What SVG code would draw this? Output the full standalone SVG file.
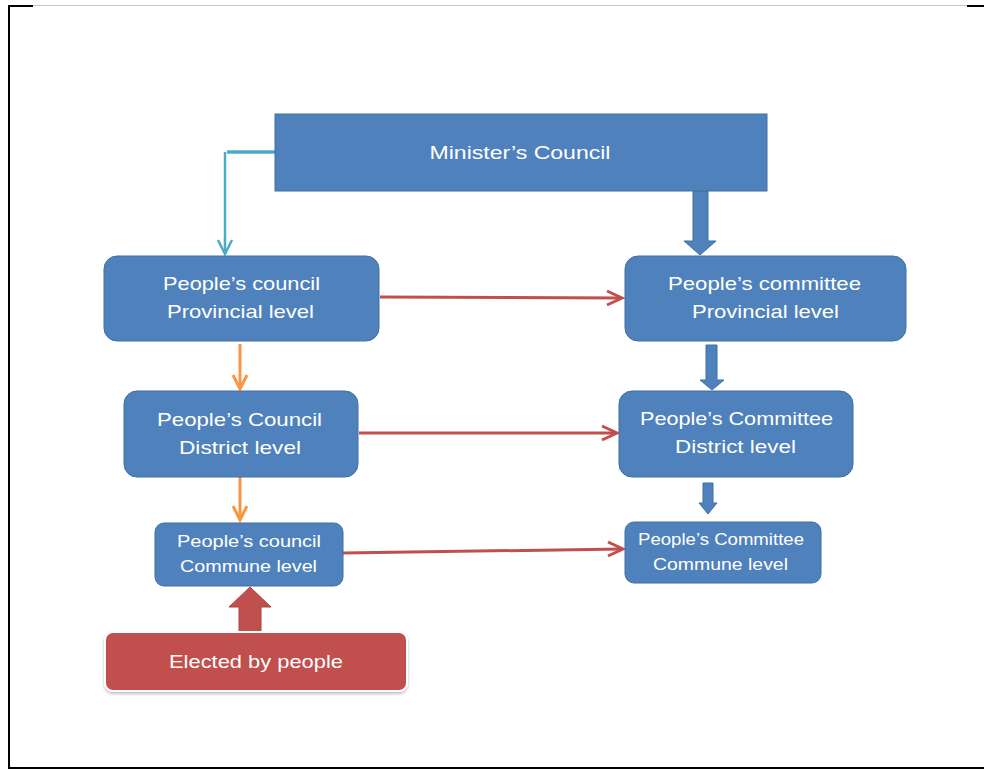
<svg xmlns="http://www.w3.org/2000/svg" width="984" height="770" viewBox="0 0 984 770">
  <defs>
    <style>
      .box { fill: #4F81BD; stroke: #41709f; stroke-width: 1; }
      .elect { fill: #C0504D; stroke: #ffffff; stroke-width: 2; }
      .lbl { font-family: "Liberation Sans", "Open Sans", sans-serif; fill: #ffffff; text-anchor: middle; }
      .big { font-size: 19px; }
      .small { font-size: 16.5px; }
      .frame { stroke: #000000; stroke-width: 2; fill: none; }
      .hairline { stroke: #b8b8b8; stroke-width: 0.8; fill: none; }
      .red { stroke: #C0504D; stroke-width: 3; fill: none; }
      .orange { stroke: #F79646; stroke-width: 3; fill: none; }
      .teal { stroke: #4BACC6; fill: none; }
      .blockblue { fill: #4F81BD; stroke: #41709f; stroke-width: 1; }
      .blockred { fill: #C0504D; stroke: #a84340; stroke-width: 1; }
    </style>
    <filter id="shadow" x="-10%" y="-20%" width="120%" height="150%">
      <feDropShadow dx="0" dy="2" stdDeviation="1.5" flood-color="#000" flood-opacity="0.25"/>
    </filter>
  </defs>

  <rect width="984" height="770" fill="#ffffff"/>

  <!-- page frame -->
  <g id="frame">
    <path class="hairline" d="M33 5.5 H967"/>
    <path class="frame" d="M8 6 H33 M9 6 V768 H984 M967 6 H984"/>
  </g>

  <!-- connectors -->
  <g id="connectors">
    <!-- Minister's Council to People's council (provincial) -->
    <path class="teal" stroke-width="3.5" d="M275 152 H227"/>
    <path class="teal" stroke-width="2.5" d="M225 152 V253"/>
    <path class="teal" stroke-width="2.5" d="M218 240 L225 254 L232 240"/>

    <!-- Minister's Council to People's committee (provincial) -->
    <path class="blockblue" d="M693 191 H708 V241 H716 L700 255 L684 241 H693 Z"/>

    <!-- committee provincial to district -->
    <path class="blockblue" d="M706 345 H717 V380 H724 L712 390 L700 380 H706 Z"/>

    <!-- committee district to commune -->
    <path class="blockblue" d="M703 483 H713 V503 H717 L708 514 L699 503 H703 Z"/>

    <!-- council chain -->
    <path class="orange" d="M240 344 V388"/>
    <path class="orange" d="M233 375 L240 389 L247 375"/>
    <path class="orange" d="M240 477 V519"/>
    <path class="orange" d="M233 506 L240 520 L247 506"/>

    <!-- councils to committees -->
    <path class="red" d="M380 297 L621 298"/>
    <path class="red" d="M607 291 L622 298 L607 305"/>
    <path class="red" d="M359 433 L616 433"/>
    <path class="red" d="M602 426 L617 433 L602 440"/>
    <path class="red" d="M343 553 L622 549"/>
    <path class="red" d="M608 542 L623 549 L608 556"/>

    <!-- election to commune council -->
    <path class="blockred" d="M239 633 V607 H229 L250 587 L271 607 H261 V633 Z"/>
  </g>

  <g id="ministers-council">
    <rect class="box" x="275" y="114" width="492" height="77"/>
    <text class="lbl big" x="520" y="159" textLength="181" lengthAdjust="spacingAndGlyphs">Minister’s Council</text>
  </g>

  <g id="council-provincial">
    <rect class="box" x="104" y="256" width="275" height="85" rx="13"/>
    <text class="lbl big" x="241.5" y="290" textLength="157" lengthAdjust="spacingAndGlyphs">People’s council</text>
    <text class="lbl big" x="240.5" y="318" textLength="147" lengthAdjust="spacingAndGlyphs">Provincial level</text>
  </g>

  <g id="committee-provincial">
    <rect class="box" x="625" y="256" width="281" height="85" rx="13"/>
    <text class="lbl big" x="764.5" y="290" textLength="193" lengthAdjust="spacingAndGlyphs">People’s committee</text>
    <text class="lbl big" x="765.5" y="318" textLength="147" lengthAdjust="spacingAndGlyphs">Provincial level</text>
  </g>

  <g id="council-district">
    <rect class="box" x="124" y="391" width="234" height="86" rx="13"/>
    <text class="lbl big" x="239.5" y="426" textLength="165" lengthAdjust="spacingAndGlyphs">People’s Council</text>
    <text class="lbl big" x="240" y="454" textLength="122" lengthAdjust="spacingAndGlyphs">District level</text>
  </g>

  <g id="committee-district">
    <rect class="box" x="619" y="391" width="234" height="86" rx="13"/>
    <text class="lbl big" x="736.5" y="425" textLength="193" lengthAdjust="spacingAndGlyphs">People’s Committee</text>
    <text class="lbl big" x="735.5" y="453" textLength="121" lengthAdjust="spacingAndGlyphs">District level</text>
  </g>

  <g id="council-commune">
    <rect class="box" x="155" y="523" width="188" height="63" rx="9"/>
    <text class="lbl small" x="249" y="547" textLength="144" lengthAdjust="spacingAndGlyphs">People’s council</text>
    <text class="lbl small" x="248.5" y="572" textLength="137" lengthAdjust="spacingAndGlyphs">Commune level</text>
  </g>

  <g id="committee-commune">
    <rect class="box" x="625" y="522" width="196" height="61" rx="9"/>
    <text class="lbl small" x="721" y="545" textLength="166" lengthAdjust="spacingAndGlyphs">People’s Committee</text>
    <text class="lbl small" x="720.5" y="570" textLength="135" lengthAdjust="spacingAndGlyphs">Commune level</text>
  </g>

  <g id="elected-by-people">
    <rect class="elect" x="105" y="632" width="302" height="59" rx="8" filter="url(#shadow)"/>
    <text class="lbl big" x="256" y="668" textLength="174" lengthAdjust="spacingAndGlyphs">Elected by people</text>
  </g>
</svg>
